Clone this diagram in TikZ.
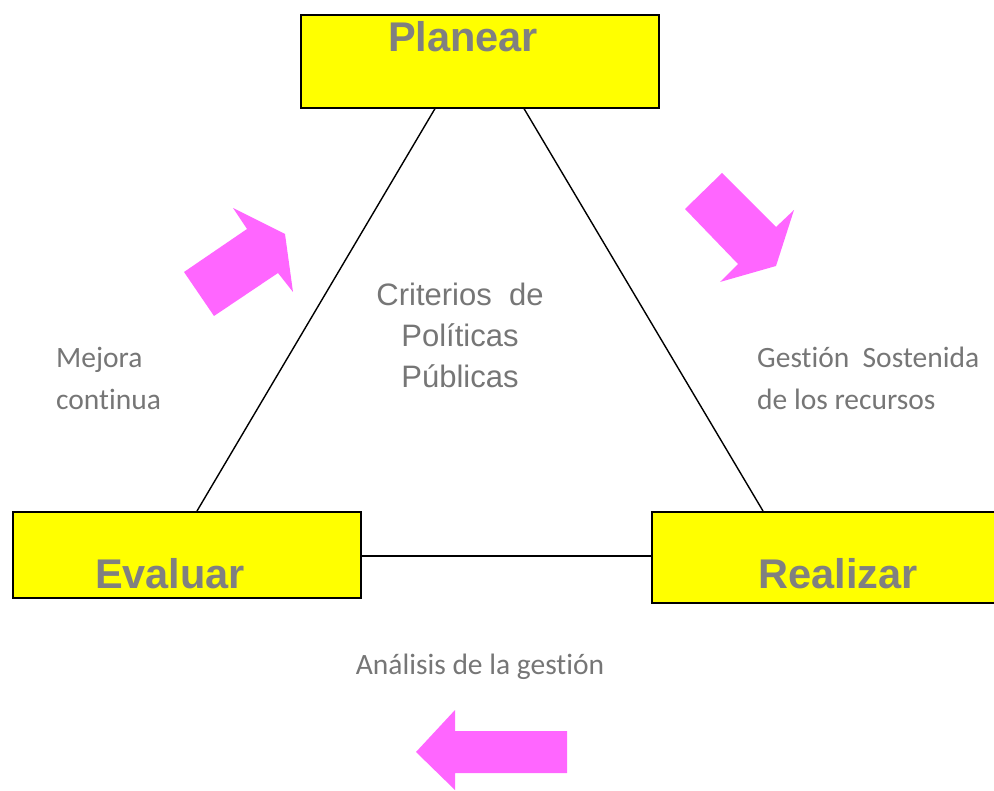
\documentclass[tikz,border=0pt]{standalone}
\usepackage{fontspec}
\setmainfont{Liberation Sans}
\newfontfamily\calfont[Ligatures={NoCommon}]{Carlito}
\usetikzlibrary{calc}
\definecolor{boxyellow}{RGB}{255,255,0}
\definecolor{labgray}{RGB}{128,128,128}
\definecolor{txtgray}{RGB}{118,118,118}
\definecolor{arrowpink}{RGB}{255,102,255}
\tikzset{
  phasebox/.style={draw=black, line width=1.6pt, fill=boxyellow, rectangle, inner sep=0pt, anchor=north west},
  phaselabel/.style={font=\fontsize{41.5}{46}\selectfont\bfseries, text=labgray, inner sep=0pt, anchor=base},
  sidetext/.style={font=\calfont\fontsize{29.5}{42}\selectfont, text=txtgray, inner sep=0pt, align=left, anchor=north west},
  centertext/.style={font=\fontsize{31}{41}\selectfont, text=txtgray, inner sep=0pt, align=center, anchor=north},
  tri/.style={draw=black, line width=1.4pt},
  pinkarrow/.style={fill=arrowpink, draw=none}
}
\begin{document}
\begin{tikzpicture}[x=1pt,y=-1pt]
\useasboundingbox (0,0) rectangle (994,791);
% boxes
\node[phasebox, minimum width=358pt, minimum height=93pt] (P) at (300,14) {};
\node[phasebox, minimum width=348pt, minimum height=86pt] (E) at (12,511) {};
\node[phasebox, minimum width=349pt, minimum height=91pt] (R) at (651,511) {};
% labels
\node[phaselabel] (Pl) at (463,52) {Planear};
\node[phaselabel] (El) at (170,588) {Evaluar};
\node[phaselabel] (Rl) at (838,588) {Realizar};
% triangle
\draw[tri] ([xshift=135pt]P.south west) -- ([xshift=185pt]E.north west);
\draw[tri] ([xshift=224pt]P.south west) -- ([xshift=112pt]R.north west);
\draw[tri] ([yshift=-45pt]E.north east) -- ([yshift=-45pt]R.north west);
% texts
\node[centertext] (C) at (460,283) {Criterios\ \ de\\Políticas\\Públicas};
\node[sidetext] (M) at (56,347) {Mejora\\continua};
\node[sidetext] (G) at (757,347) {Gestión\ \ Sostenida\\de los recursos};
\node[sidetext, anchor=north] (A) at (480,654) {Análisis de la gestión};
% pink arrows
\fill[pinkarrow] (184,272) -- (247,229) -- (233,208) -- (285,234) -- (293,292) -- (278,273) -- (214,316) -- cycle;
\fill[pinkarrow] (722,173) -- (776,227) -- (794,210) -- (776,266) -- (720,282) -- (738,264) -- (685,209) -- cycle;
\fill[pinkarrow] (416,752) -- (455,710) -- (455,731) -- (567,731) -- (567,773) -- (455,773) -- (455,790) -- cycle;
\end{tikzpicture}
\end{document}
